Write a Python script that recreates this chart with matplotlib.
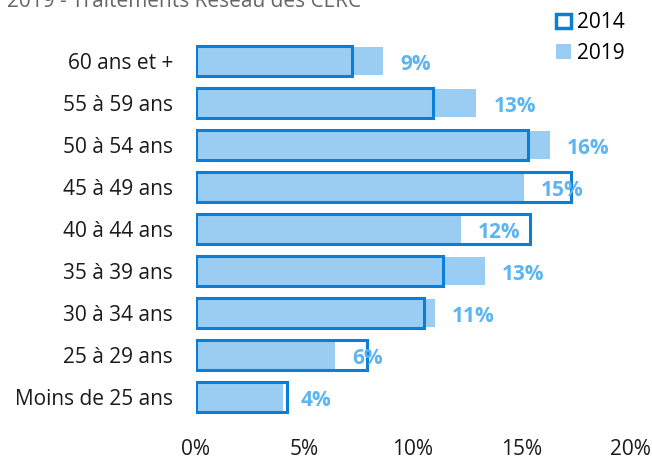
import matplotlib
matplotlib.use("Agg")
import matplotlib.pyplot as plt
from matplotlib.patches import Patch
import numpy as np

categories = ["60 ans et +", "55 à 59 ans", "50 à 54 ans", "45 à 49 ans", "40 à 44 ans",
              "35 à 39 ans", "30 à 34 ans", "25 à 29 ans", "Moins de 25 ans"]
values_2014 = [7.2, 10.9, 15.3, 17.3, 15.4, 11.4, 10.5, 7.9, 4.2]
values_2019 = [8.6, 12.9, 16.3, 15.1, 12.2, 13.3, 11.0, 6.4, 4.0]
value_labels = ["9%", "13%", "16%", "15%", "12%", "13%", "11%", "6%", "4%"]
x_ticks = [0, 5, 10, 15, 20]
x_tick_labels = ["0%", "5%", "10%", "15%", "20%"]
title = "2019 - Traitements Réseau des CERC"

plt.rcParams['font.family'] = ['Open Sans', 'DejaVu Sans']

OUTLINE = "#0a7fd9"
FILL = "#9acdf1"
LABEL = "#5cb5f2"
FS = 15

fig = plt.figure(figsize=(6.52, 4.59), dpi=100)
ax = fig.add_axes([196/652, 1-418/459, (630-196)/652, 378/459])

y = np.arange(len(categories))
ax.barh(y, values_2019, height=0.65, color=FILL, zorder=2)
ax.barh(y, values_2014, height=0.70, facecolor="none", edgecolor=OUTLINE, linewidth=2.2, zorder=3)

for yi, v, lab in zip(y, values_2019, value_labels):
    ax.annotate(lab, (v, yi), xytext=(12.5, -1), textcoords="offset points",
                ha="left", va="center_baseline", color=LABEL, fontweight="bold",
                fontsize=FS, zorder=4)

ax.set_xlim(0, 20)
ax.set_ylim(len(categories) - 0.5, -0.5)
ax.set_yticks(y)
ax.set_yticklabels(categories, fontsize=FS, color="#1a1a1a")
ax.set_xticks(x_ticks)
ax.set_xticklabels(x_tick_labels, fontsize=FS, color="#1a1a1a")
ax.tick_params(axis="y", length=0, pad=16.5)
ax.tick_params(axis="x", length=0, pad=15)
for s in ax.spines.values():
    s.set_visible(False)

fig.text(7/652, 1 - 7/459, title, ha="left", va="baseline", fontsize=FS, color="#666666")

handles = [Patch(facecolor="white", edgecolor=OUTLINE, linewidth=2.5, label="2014"),
           Patch(facecolor=FILL, edgecolor="none", label="2019")]
fig.legend(handles=handles, loc="upper left", bbox_to_anchor=(548/652, 1 - 4/459),
           frameon=False, fontsize=FS, handlelength=0.7, handleheight=0.7,
           handletextpad=0.3, labelspacing=0.45, borderaxespad=0)

fig.savefig("out.png", dpi=100)
